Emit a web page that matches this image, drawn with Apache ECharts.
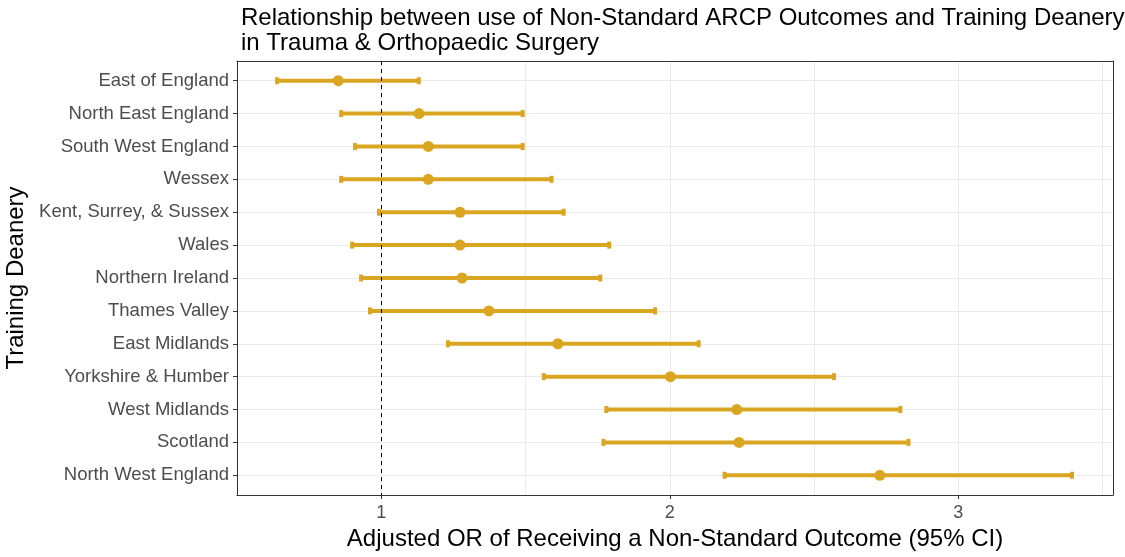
<!DOCTYPE html>
<html>
<head>
<meta charset="utf-8">
<script src="https://cdn.jsdelivr.net/npm/echarts@6/dist/echarts.min.js"></script>
<style>html,body{margin:0;padding:0;background:#fff;}#c{width:1125px;height:557px;}</style>
</head>
<body>
<div id="c"></div>
<script>
var categories = ["East of England","North East England","South West England","Wessex","Kent, Surrey, & Sussex","Wales","Northern Ireland","Thames Valley","East Midlands","Yorkshire & Humber","West Midlands","Scotland","North West England"];
var estimates = [0.851,1.131,1.163,1.163,1.273,1.273,1.280,1.373,1.612,2.002,2.232,2.240,2.728];
var lowerCI =   [0.639,0.861,0.909,0.861,0.992,0.899,0.930,0.961,1.231,1.563,1.780,1.770,2.190];
var upperCI =   [1.130,1.490,1.490,1.590,1.632,1.790,1.759,1.949,2.100,2.569,2.799,2.827,3.394];
var xTickLabels = [1,2,3];

var color = '#DAA520';
var font = 'Liberation Sans, Arial, sans-serif';
var rowIdx = categories.map(function(_, i){ return i; });

var errData = categories.map(function(c, i){ return [lowerCI[i], upperCI[i], i]; });
var ptData = categories.map(function(c, i){ return [estimates[i], i]; });

var border = {show: true, onZero: false, lineStyle: {color: '#333333', width: 1}};
var X_MIN = 0.5, X_MAX = 3.536, Y_MIN = -0.6, Y_MAX = 12.6;

var chart = echarts.init(document.getElementById('c'), null, {renderer:'canvas'});
chart.setOption({
  animation: false,
  backgroundColor: '#ffffff',
  title: {
    text: 'Relationship between use of Non-Standard ARCP Outcomes and Training Deanery\nin Trauma & Orthopaedic Surgery',
    left: 236, top: 1,
    textStyle: {fontFamily: font, fontSize: 24, fontWeight: 'normal', color: '#000', lineHeight: 25}
  },
  grid: {left: 237, right: 12, top: 61, bottom: 62, show: false, outerBoundsMode: 'none', containLabel: false},
  xAxis: [{
    type: 'value', min: X_MIN, max: X_MAX, interval: 0.5, position: 'bottom',
    axisLine: border, axisTick: {show: false}, axisLabel: {show: false},
    splitLine: {show: true, lineStyle: {color: '#EBEBEB', width: 1}}
  },{
    type: 'value', min: X_MIN, max: X_MAX, position: 'bottom',
    axisLine: {show: false, onZero: false},
    axisTick: {show: true, length: 4, customValues: xTickLabels, lineStyle: {color: '#333333'}},
    axisLabel: {show: true, customValues: xTickLabels, color: '#4D4D4D', fontFamily: font, fontSize: 18, margin: 9},
    splitLine: {show: false},
    name: 'Adjusted OR of Receiving a Non-Standard Outcome (95% CI)',
    nameLocation: 'middle', nameGap: 31,
    nameTextStyle: {fontFamily: font, fontSize: 24, color: '#000'}
  },{
    type: 'value', min: X_MIN, max: X_MAX, position: 'top',
    axisLine: border, axisTick: {show: false}, axisLabel: {show: false}, splitLine: {show: false}
  }],
  yAxis: [{
    type: 'value', inverse: true, min: Y_MIN, max: Y_MAX, position: 'left',
    axisLine: border,
    axisTick: {show: true, length: 4, customValues: rowIdx, lineStyle: {color: '#333333'}},
    axisLabel: {show: true, customValues: rowIdx, color: '#4D4D4D', fontFamily: font, fontSize: 18.5, margin: 8,
      formatter: function(v){ return categories[Math.round(v)] || ''; }},
    splitLine: {show: true, lineStyle: {color: '#EBEBEB', width: 1}},
    name: 'Training Deanery', nameLocation: 'middle', nameGap: 203, nameRotate: 90,
    nameTextStyle: {fontFamily: font, fontSize: 24, color: '#000'}
  },{
    type: 'value', inverse: true, min: Y_MIN, max: Y_MAX, position: 'right',
    axisLine: border, axisTick: {show: false}, axisLabel: {show: false}, splitLine: {show: false}
  }],
  series: [{
    type: 'custom',
    xAxisIndex: 0, yAxisIndex: 0,
    data: errData,
    encode: {x: [0, 1], y: 2},
    renderItem: function(params, api){
      var p0 = api.coord([api.value(0), api.value(2)]);
      var p1 = api.coord([api.value(1), api.value(2)]);
      return {
        type: 'group',
        children: [
          {type: 'line', shape: {x1: p0[0], y1: p0[1], x2: p1[0], y2: p1[1]}, style: {stroke: color, lineWidth: 4}},
          {type: 'rect', shape: {x: p0[0]-2, y: p0[1]-3.5, width: 4, height: 7}, style: {fill: color}},
          {type: 'rect', shape: {x: p1[0]-2, y: p1[1]-3.5, width: 4, height: 7}, style: {fill: color}}
        ]
      };
    },
    markLine: {
      silent: true, symbol: 'none', label: {show: false},
      lineStyle: {color: '#000', type: [4, 4], width: 1},
      data: [{xAxis: 1}]
    },
    z: 2
  },{
    type: 'scatter',
    xAxisIndex: 0, yAxisIndex: 0,
    data: ptData,
    symbol: 'circle', symbolSize: 11,
    itemStyle: {color: color, opacity: 1},
    z: 3
  }]
});
</script>
</body>
</html>
